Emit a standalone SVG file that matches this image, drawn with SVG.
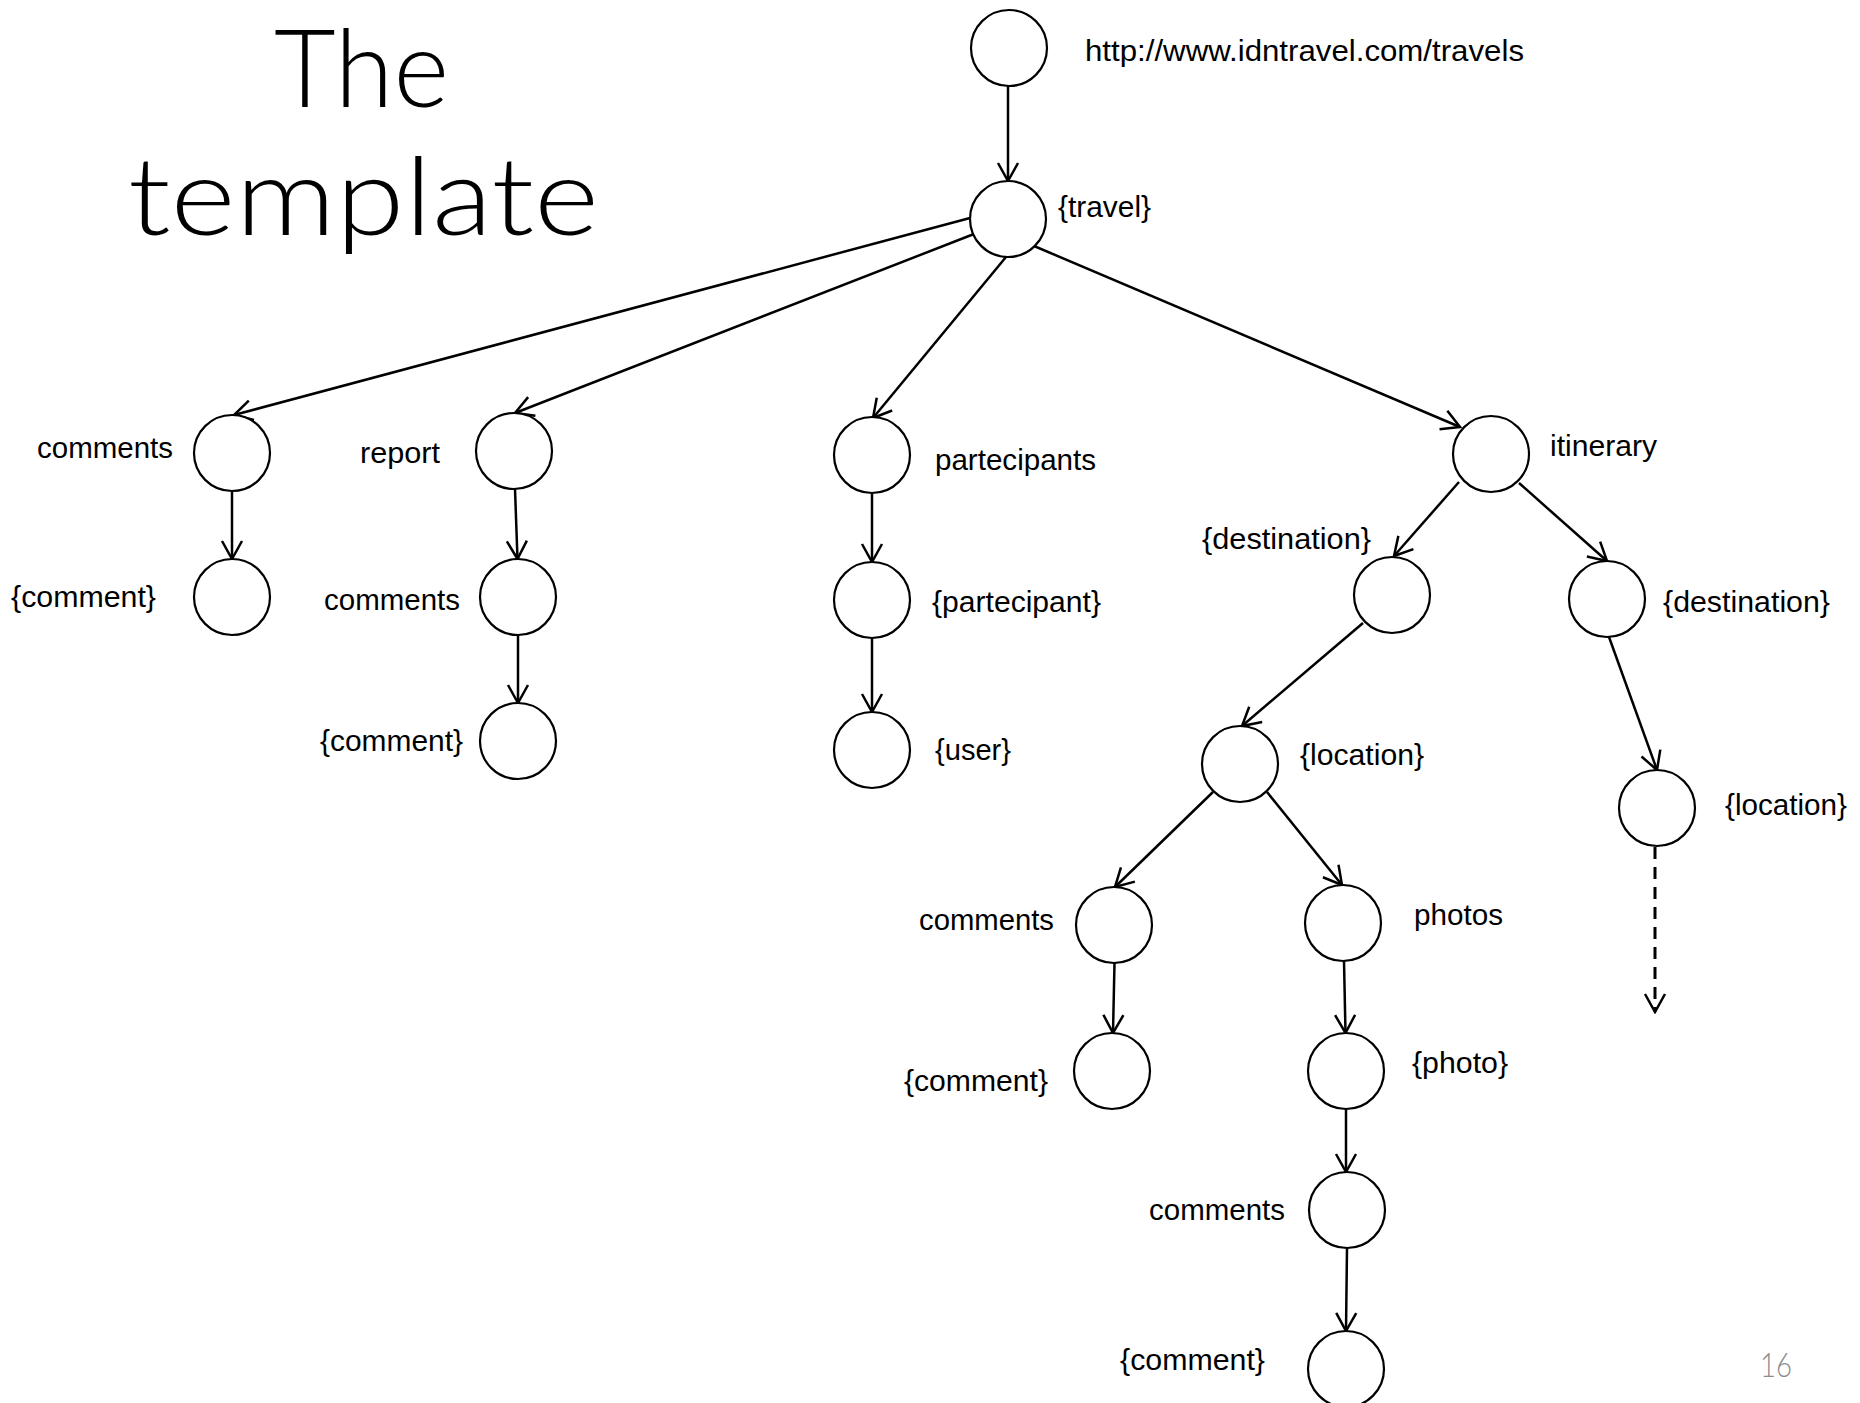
<svg xmlns="http://www.w3.org/2000/svg" width="1860" height="1403" viewBox="0 0 1860 1403">
<style>
.node{fill:#fff;stroke:#000;stroke-width:2.2}
.lbl{font-family:"Liberation Sans",Arial,sans-serif;font-size:30px;fill:#000}
.edge{stroke:#000;stroke-width:2.5;fill:none;marker-end:url(#arr)}
.dash{stroke-dasharray:12 8;stroke-width:3}
.title{font-family:"Lato","Inter","Liberation Sans",sans-serif;font-weight:300;font-size:108px;fill:#000}
</style>
<defs>
<marker id="arr" markerUnits="userSpaceOnUse" viewBox="-20 -12 22 24" markerWidth="22" markerHeight="24" refX="0" refY="0" orient="auto">
<path d="M-18,-10 L0,0 L-18,10" fill="none" stroke="#000" stroke-width="2.5"/>
</marker>
</defs>
<rect width="1860" height="1403" fill="#fff"/>
<text class="title" x="274" y="107" textLength="175" lengthAdjust="spacingAndGlyphs">The</text>
<text class="title" x="128" y="235" textLength="471" lengthAdjust="spacingAndGlyphs">template</text>
<text x="1760" y="1377" font-family="Lato,Liberation Sans,sans-serif" font-weight="300" font-size="33" fill="#8c8c8c" textLength="32" lengthAdjust="spacingAndGlyphs">16</text>
<g id="connectors">
<line class="edge" x1="1008" y1="86" x2="1008" y2="181"/>
<line class="edge" x1="970" y1="218" x2="234" y2="415"/>
<line class="edge" x1="974" y1="234" x2="515" y2="413"/>
<line class="edge" x1="1006" y1="257" x2="873" y2="418"/>
<line class="edge" x1="1034" y1="246" x2="1460" y2="427"/>
<line class="edge" x1="232" y1="491" x2="232" y2="559"/>
<line class="edge" x1="515" y1="489" x2="517.5" y2="559"/>
<line class="edge" x1="518" y1="635" x2="518" y2="703"/>
<line class="edge" x1="872" y1="493" x2="872" y2="562"/>
<line class="edge" x1="872" y1="638" x2="872" y2="712"/>
<line class="edge" x1="1459" y1="482" x2="1394" y2="556"/>
<line class="edge" x1="1519" y1="483" x2="1607" y2="561"/>
<line class="edge" x1="1363" y1="623" x2="1242" y2="726"/>
<line class="edge" x1="1609" y1="637" x2="1657" y2="770"/>
<line class="edge dash" x1="1655" y1="847" x2="1655" y2="1012"/>
<line class="edge" x1="1213" y1="792" x2="1115" y2="887"/>
<line class="edge" x1="1267" y1="792" x2="1342" y2="885"/>
<line class="edge" x1="1114.5" y1="963" x2="1113" y2="1033"/>
<line class="edge" x1="1344" y1="961" x2="1345.5" y2="1033"/>
<line class="edge" x1="1346" y1="1109" x2="1346" y2="1172"/>
<line class="edge" x1="1347" y1="1248" x2="1346" y2="1331"/>
</g>
<g id="n-root"><circle class="node" cx="1009" cy="48" r="38"/><text class="lbl" x="1085" y="61" textLength="439" lengthAdjust="spacingAndGlyphs">http://www.idntravel.com/travels</text></g>
<g id="n-travel"><circle class="node" cx="1008" cy="219" r="38"/><text class="lbl" x="1058" y="217" textLength="93" lengthAdjust="spacingAndGlyphs">{travel}</text></g>
<g id="n-comments1"><circle class="node" cx="232" cy="453" r="38"/><text class="lbl" x="37" y="458" textLength="136" lengthAdjust="spacingAndGlyphs">comments</text></g>
<g id="n-comment1"><circle class="node" cx="232" cy="597" r="38"/><text class="lbl" x="11" y="607" textLength="145" lengthAdjust="spacingAndGlyphs">{comment}</text></g>
<g id="n-report"><circle class="node" cx="514" cy="451" r="38"/><text class="lbl" x="360" y="463" textLength="80" lengthAdjust="spacingAndGlyphs">report</text></g>
<g id="n-comments2"><circle class="node" cx="518" cy="597" r="38"/><text class="lbl" x="324" y="610" textLength="136" lengthAdjust="spacingAndGlyphs">comments</text></g>
<g id="n-comment2"><circle class="node" cx="518" cy="741" r="38"/><text class="lbl" x="320" y="751" textLength="143" lengthAdjust="spacingAndGlyphs">{comment}</text></g>
<g id="n-partecipants"><circle class="node" cx="872" cy="455" r="38"/><text class="lbl" x="935" y="470" textLength="161" lengthAdjust="spacingAndGlyphs">partecipants</text></g>
<g id="n-partecipant"><circle class="node" cx="872" cy="600" r="38"/><text class="lbl" x="932" y="612" textLength="169" lengthAdjust="spacingAndGlyphs">{partecipant}</text></g>
<g id="n-user"><circle class="node" cx="872" cy="750" r="38"/><text class="lbl" x="935" y="760" textLength="76" lengthAdjust="spacingAndGlyphs">{user}</text></g>
<g id="n-itinerary"><circle class="node" cx="1491" cy="454" r="38"/><text class="lbl" x="1550" y="456" textLength="107" lengthAdjust="spacingAndGlyphs">itinerary</text></g>
<g id="n-destination1"><circle class="node" cx="1392" cy="595" r="38"/><text class="lbl" x="1202" y="549" textLength="169" lengthAdjust="spacingAndGlyphs">{destination}</text></g>
<g id="n-destination2"><circle class="node" cx="1607" cy="599" r="38"/><text class="lbl" x="1663" y="612" textLength="167" lengthAdjust="spacingAndGlyphs">{destination}</text></g>
<g id="n-location1"><circle class="node" cx="1240" cy="764" r="38"/><text class="lbl" x="1300" y="765" textLength="124" lengthAdjust="spacingAndGlyphs">{location}</text></g>
<g id="n-location2"><circle class="node" cx="1657" cy="808" r="38"/><text class="lbl" x="1725" y="815" textLength="122" lengthAdjust="spacingAndGlyphs">{location}</text></g>
<g id="n-comments3"><circle class="node" cx="1114" cy="925" r="38"/><text class="lbl" x="919" y="930" textLength="135" lengthAdjust="spacingAndGlyphs">comments</text></g>
<g id="n-comment3"><circle class="node" cx="1112" cy="1071" r="38"/><text class="lbl" x="904" y="1091" textLength="144" lengthAdjust="spacingAndGlyphs">{comment}</text></g>
<g id="n-photos"><circle class="node" cx="1343" cy="923" r="38"/><text class="lbl" x="1414" y="925" textLength="89" lengthAdjust="spacingAndGlyphs">photos</text></g>
<g id="n-photo"><circle class="node" cx="1346" cy="1071" r="38"/><text class="lbl" x="1412" y="1073" textLength="96" lengthAdjust="spacingAndGlyphs">{photo}</text></g>
<g id="n-comments4"><circle class="node" cx="1347" cy="1210" r="38"/><text class="lbl" x="1149" y="1220" textLength="136" lengthAdjust="spacingAndGlyphs">comments</text></g>
<g id="n-comment4"><circle class="node" cx="1346" cy="1369" r="38"/><text class="lbl" x="1120" y="1370" textLength="145" lengthAdjust="spacingAndGlyphs">{comment}</text></g>
</svg>
